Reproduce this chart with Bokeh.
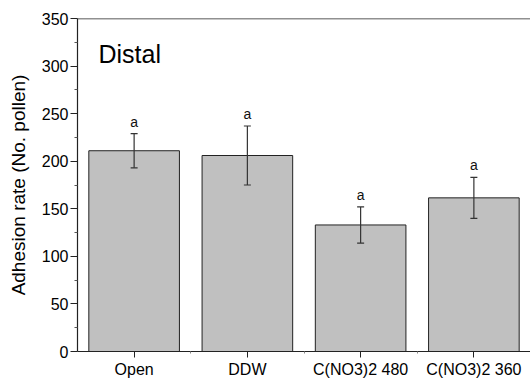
from bokeh.plotting import figure
from bokeh.models import ColumnDataSource, Range1d, FixedTicker, Whisker, Span, TeeHead
from bokeh.core.properties import value
from bokeh.embed import file_html
from bokeh.resources import INLINE

categories = ["Open", "DDW", "C(NO3)2 480", "C(NO3)2 360"]
means = [211, 206, 133, 161.5]
errors = [18, 31, 19, 21.5]
letters = ["a", "a", "a", "a"]
y_ticks = [0, 50, 100, 150, 200, 250, 300, 350]
panel_title = "Distal"

xs = list(range(len(categories)))
src = ColumnDataSource(dict(
    x=xs, top=means,
    upper=[m + e for m, e in zip(means, errors)],
    lower=[m - e for m, e in zip(means, errors)],
    letter=letters,
))

FONT = "Liberation Sans"

p = figure(width=530, height=381, output_backend="svg", toolbar_location=None,
           x_range=Range1d(-0.5, 3.5), y_range=Range1d(0, 350),
           min_border_left=77, min_border_top=18, min_border_right=0, min_border_bottom=30)
p.outline_line_color = None
p.grid.visible = False
p.background_fill_color = "white"
p.border_fill_color = "white"

p.vbar(x="x", top="top", width=0.8, bottom=0, source=src,
       fill_color="#c0c0c0", line_color="#222222", line_width=1)

w = Whisker(base="x", upper="upper", lower="lower", source=src,
            line_color="#333333", line_width=1.2, level="overlay",
            upper_head=TeeHead(size=7, line_color="#333333", line_width=1.2),
            lower_head=TeeHead(size=7, line_color="#333333", line_width=1.2))
p.add_layout(w)

p.text(x="x", y="upper", text="letter", source=src, text_align="center",
       text_baseline="alphabetic", y_offset=-12, text_font=value(FONT),
       text_font_size="14px", text_color="#111111")

p.text(x=[-0.315], y=[313], text=[panel_title], text_align="left",
       text_baseline="alphabetic", text_font=value(FONT),
       text_font_size="25px", text_color="#000000")

p.add_layout(Span(location=350, dimension="width", line_color="#222222", line_width=1.5))

xa = p.xaxis[0]
xa.ticker = FixedTicker(ticks=xs, minor_ticks=[0.5, 1.5, 2.5])
xa.major_label_overrides = {i: c for i, c in enumerate(categories)}
xa.major_tick_in = 0
xa.major_tick_out = 6
xa.minor_tick_in = 0
xa.minor_tick_out = 2
xa.major_label_standoff = 3
xa.major_label_text_font = FONT
xa.major_label_text_font_size = "16px"
xa.major_label_text_color = "#000000"
xa.axis_line_color = "#222222"
xa.major_tick_line_color = "#222222"
xa.minor_tick_line_color = "#888888"
xa.axis_line_width = 1.2

ya = p.yaxis[0]
ya.ticker = FixedTicker(ticks=y_ticks, minor_ticks=[v + 25 for v in y_ticks[:-1]])
ya.major_tick_in = 0
ya.major_tick_out = 7
ya.minor_tick_in = 0
ya.minor_tick_out = 3
ya.major_label_standoff = 2
ya.major_label_text_font = FONT
ya.major_label_text_font_size = "16px"
ya.major_label_text_color = "#000000"
ya.axis_label = "Adhesion rate (No. pollen)"
ya.axis_label_text_font = FONT
ya.axis_label_text_font_size = "19px"
ya.axis_label_text_font_style = "normal"
ya.axis_label_text_color = "#000000"
ya.axis_label_standoff = 10
ya.axis_line_color = "#222222"
ya.major_tick_line_color = "#222222"
ya.minor_tick_line_color = "#555555"
ya.axis_line_width = 1.2

open("out.html", "w").write(file_html(p, INLINE))
